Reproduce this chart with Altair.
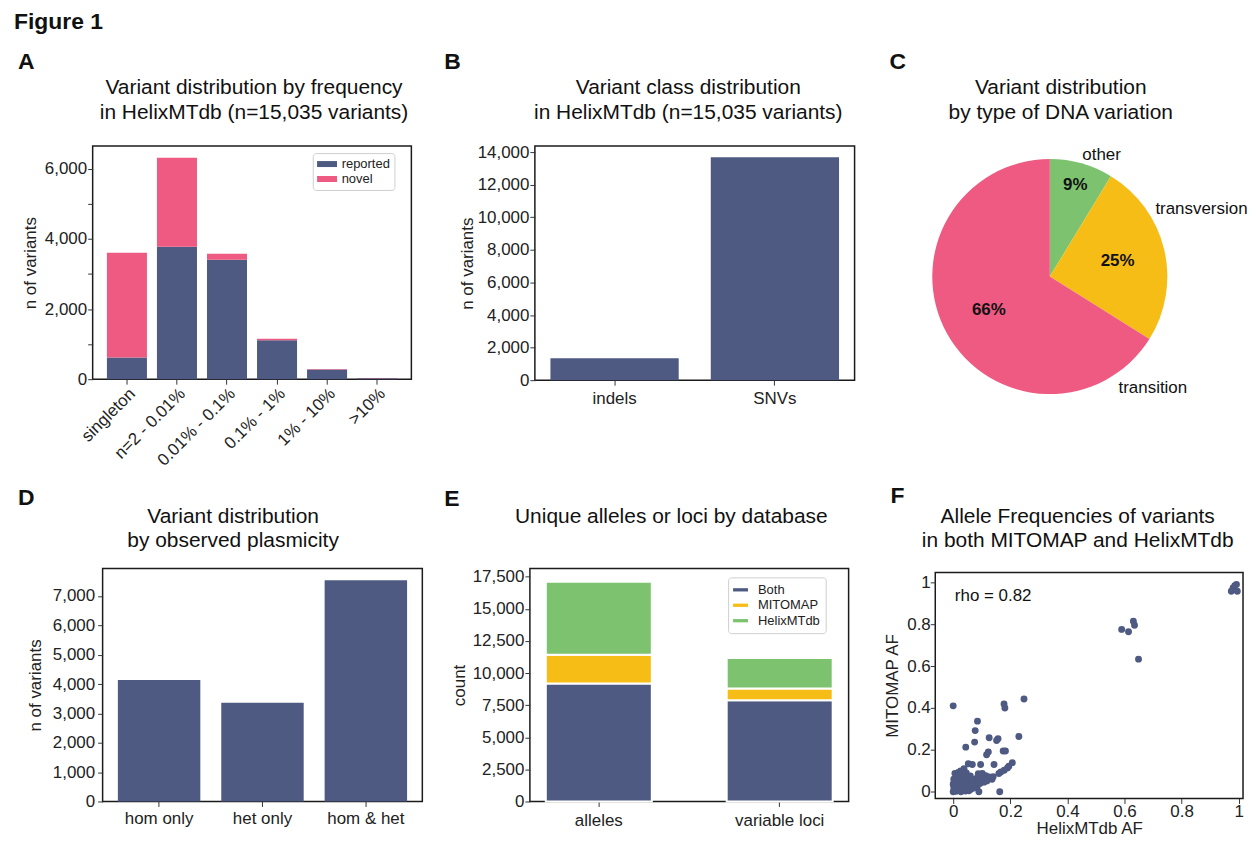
import altair as alt
import pandas as pd

FONT = "Liberation Sans"
INK = "#111111"
NAVY = "#4E5A82"
PINK = "#EE5A82"
YELLOW = "#F7BD17"
GREEN = "#7DC36F"

# ---------------- data ----------------
freq_bins = ["singleton", "n=2 - 0.01%", "0.01% - 0.1%", "0.1% - 1%", "1% - 10%", ">10%"]
reported = [620, 3780, 3410, 1110, 275, 25]
novel = [2990, 2540, 170, 40, 12, 6]

classes = ["indels", "SNVs"]
class_counts = [1345, 13690]

dna_types = ["other", "transversion", "transition"]
dna_share = [8.7, 25.2, 66.1]
dna_pct = ["9%", "25%", "66%"]

plasmicity = ["hom only", "het only", "hom & het"]
plasmicity_counts = [4140, 3360, 7535]

db_groups = ["alleles", "variable loci"]
both_db = [9180, 7880]
mitomap_only = [2250, 910]
helix_only = [5690, 2380]

helix_af = [0.974, 0.992, 0.980, 0.995, 0.986,
            0.590, 0.614, 0.631, 0.635, 0.649,
            0.000, 0.248, 0.178, 0.181, 0.085, 0.077, 0.044, 0.075, 0.126, 0.157,
            0.152, 0.230, 0.123, 0.117, 0.175, 0.183, 0.053, 0.067, 0.096, 0.143,
            0.207, 0.195, 0.190, 0.179, 0.167, 0.160, 0.126, 0.114, 0.102, 0.090,
            0.163, 0.038, 0.026,
            0.000, 0.004, 0.010, 0.002, 0.008, 0.015, 0.020, 0.003, 0.012, 0.020,
            0.026, 0.030, 0.018, 0.028, 0.035, 0.040, 0.040, 0.046, 0.050, 0.050,
            0.056, 0.060, 0.066, 0.070, 0.076, 0.082, 0.086, 0.090, 0.096, 0.100,
            0.106, 0.112, 0.120, 0.030, 0.022, 0.038, 0.060, 0.046, 0.015, 0.008,
            0.032, 0.068, 0.078, 0.088, 0.128, 0.000, 0.002, 0.027, 0.055, 0.062,
            0.043, 0.072, 0.012, 0.024, 0.036, 0.052, 0.064, 0.084, 0.094, 0.108,
            0.118, 0.136, 0.140, 0.006, 0.018]
mitomap_af = [0.957, 0.989, 0.973, 0.957, 0.984,
              0.775, 0.764, 0.814, 0.795, 0.633,
              0.410, 0.443, 0.419, 0.400, 0.337, 0.292, 0.213, 0.237, 0.258, 0.253,
              0.245, 0.264, 0.190, 0.177, 0.195, 0.195, 0.134, 0.130, 0.130, 0.130,
              0.139, 0.122, 0.114, 0.103, 0.095, 0.087, 0.071, 0.077, 0.087, 0.000,
              0.000, 0.110, 0.100,
              0.000, 0.012, 0.002, 0.022, 0.030, 0.016, 0.006, 0.045, 0.050, 0.036,
              0.022, 0.010, 0.060, 0.046, 0.030, 0.016, 0.052, 0.036, 0.020, 0.062,
              0.046, 0.030, 0.056, 0.040, 0.060, 0.050, 0.072, 0.046, 0.062, 0.076,
              0.066, 0.058, 0.070, 0.072, 0.080, 0.082, 0.076, 0.090, 0.040, 0.066,
              0.056, 0.026, 0.032, 0.086, 0.064, 0.036, 0.060, 0.000, 0.005, 0.012,
              0.004, 0.018, 0.074, 0.052, 0.042, 0.034, 0.044, 0.024, 0.040, 0.046,
              0.052, 0.060, 0.072, 0.088, 0.092]
rho_text = "rho = 0.82"

# ---------------- tables ----------------
dfA = pd.DataFrame(
    [{"bin": b, "status": "reported", "count": reported[i], "k": 0} for i, b in enumerate(freq_bins)]
    + [{"bin": b, "status": "novel", "count": novel[i], "k": 1} for i, b in enumerate(freq_bins)]
)
dfB = pd.DataFrame({"cls": classes, "n": class_counts})
dfC = pd.DataFrame({"kind": dna_types, "share": dna_share, "pct": dna_pct, "k": [0, 1, 2]})
dfD = pd.DataFrame({"pl": plasmicity, "n": plasmicity_counts})
dfE = pd.DataFrame(
    [{"grp": g, "db": "Both", "cnt": both_db[i], "k": 0} for i, g in enumerate(db_groups)]
    + [{"grp": g, "db": "MITOMAP", "cnt": mitomap_only[i], "k": 1} for i, g in enumerate(db_groups)]
    + [{"grp": g, "db": "HelixMTdb", "cnt": helix_only[i], "k": 2} for i, g in enumerate(db_groups)]
)
dfF = pd.DataFrame({"helix": helix_af, "mitomap": mitomap_af})
ONE = pd.DataFrame({"k": [0]})


def txt(s, x, y, size=17, weight="normal", align="left", lh=25):
    return alt.Chart(ONE).mark_text(
        text=s, font=FONT, fontSize=size, fontWeight=weight, align=align,
        baseline="alphabetic", color=INK, lineBreak="\n", lineHeight=lh
    ).encode(x=alt.value(x), y=alt.value(y))


def letter(s, x, y):
    return txt(s, x, y, size=23, weight="bold")


def title(s, x, y):
    return txt(s, x, y, size=21, align="center", lh=25)


def yaxis(title_text, values, tp, lp=1, label_expr=None, fmt=",d"):
    kw = dict(title=title_text, values=values, titlePadding=tp, labelPadding=lp, format=fmt)
    if label_expr:
        kw["labelExpr"] = label_expr
    return alt.Axis(**kw)


def spacer(w, h):
    return alt.Chart(ONE).mark_point(opacity=0).encode(
        x=alt.value(0), y=alt.value(0)
    ).properties(width=w, height=h, view=alt.ViewBackground(stroke="transparent"))


RES = dict(color="independent", x="independent", y="independent", theta="independent")

# ---------------- panel A ----------------
barsA = alt.Chart(dfA).mark_bar().encode(
    x=alt.X("bin:N", sort=freq_bins,
            scale=alt.Scale(paddingInner=0.2, paddingOuter=0.285),
            axis=alt.Axis(title=None, labelAngle=315, labelAlign="right",
                          labelBaseline="top", labelPadding=1)),
    y=alt.Y("count:Q", stack="zero", scale=alt.Scale(domain=[0, 6650], nice=False),
            axis=yaxis("n of variants", list(range(0, 7000, 1000)), 5, 1,
                       "datum.value % 2000 == 0 ? format(datum.value, ',') : ''")),
    color=alt.Color("status:N",
                    scale=alt.Scale(domain=["reported", "novel"], range=[NAVY, PINK]),
                    legend=alt.Legend(title=None, orient="none", legendX=221, legendY=7,
                                      symbolType="M-1,-0.45H2V0.45H-1Z", symbolSize=178,
                                      symbolStrokeWidth=0, labelFontSize=13, labelOffset=11,
                                      padding=4, rowPadding=1, strokeColor="#cfcfcf",
                                      fillColor="white", cornerRadius=3)),
    order=alt.Order("k:Q"),
)
panelA = alt.layer(
    barsA,
    txt("Figure 1", -79, -118, size=23, weight="bold"),
    letter("A", -75, -77),
    title("Variant distribution by frequency\nin HelixMTdb (n=15,035 variants)", 162, -52),
).properties(width=320, height=234)

# ---------------- panel B ----------------
barsB = alt.Chart(dfB).mark_bar(color=NAVY).encode(
    x=alt.X("cls:N", sort=classes, scale=alt.Scale(paddingInner=0.2, paddingOuter=0.097),
            axis=alt.Axis(title=None, labelAngle=0, labelPadding=5)),
    y=alt.Y("n:Q", scale=alt.Scale(domain=[0, 14370], nice=False),
            axis=yaxis("n of variants", list(range(0, 16000, 2000)), 1)),
)
panelB = alt.layer(
    barsB,
    letter("B", -91, -77),
    title("Variant class distribution\nin HelixMTdb (n=15,035 variants)", 154, -52),
).properties(width=321, height=235)

# ---------------- panel C ----------------
baseC = alt.Chart(dfC).encode(
    theta=alt.Theta("share:Q", stack=True), order=alt.Order("k:Q")
)
arcs = baseC.mark_arc(radius=118).encode(
    color=alt.Color("kind:N", scale=alt.Scale(domain=dna_types, range=[GREEN, YELLOW, PINK]),
                    legend=None)
)
pct_out = baseC.transform_calculate(
    lab="datum.kind == 'other' ? datum.pct : ''"
).mark_text(radius=95, font=FONT, fontSize=17, fontWeight="bold", color=INK).encode(text="lab:N")
pct_in = baseC.transform_calculate(
    lab="datum.kind == 'other' ? '' : datum.pct"
).mark_text(radius=70, font=FONT, fontSize=17, fontWeight="bold", color=INK).encode(text="lab:N")
panelC = alt.layer(
    arcs, pct_out, pct_in,
    txt(dna_types[0], 124, 14, align="center"),
    txt(dna_types[1], 178, 68),
    txt(dna_types[2], 141, 248),
    letter("C", -89, -77),
    title("Variant distribution\nby type of DNA variation", 83, -52),
).properties(width=144, height=262, view=alt.ViewBackground(stroke="transparent"))

# ---------------- panel D ----------------
barsD = alt.Chart(dfD).mark_bar(color=NAVY).encode(
    x=alt.X("pl:N", sort=plasmicity, scale=alt.Scale(paddingInner=0.2025, paddingOuter=0.1475),
            axis=alt.Axis(title=None, labelAngle=0, labelPadding=4)),
    y=alt.Y("n:Q", scale=alt.Scale(domain=[0, 7940], nice=False),
            axis=yaxis("n of variants", list(range(0, 8000, 1000)), 8, 3)),
)
panelD = alt.layer(
    barsD,
    letter("D", -85, -64),
    title("Variant distribution\nby observed plasmicity", 131, -46),
).properties(width=321, height=234)

# ---------------- panel E ----------------
barsE = alt.Chart(dfE).mark_bar(stroke="white", strokeWidth=2).encode(
    x=alt.X("grp:N", sort=db_groups, scale=alt.Scale(paddingInner=0.414, paddingOuter=0.088),
            axis=alt.Axis(title=None, labelAngle=0, labelPadding=6)),
    y=alt.Y("cnt:Q", stack="zero", scale=alt.Scale(domain=[0, 18150], nice=False),
            axis=yaxis("count", list(range(0, 20000, 2500)), 4)),
    color=alt.Color("db:N",
                    scale=alt.Scale(domain=["Both", "MITOMAP", "HelixMTdb"],
                                    range=[NAVY, YELLOW, GREEN]),
                    legend=alt.Legend(title=None, orient="none", legendX=199, legendY=9,
                                      symbolType="M-1,-0.22H1V0.22H-1Z", symbolSize=225,
                                      symbolStrokeWidth=0, labelFontSize=13, labelOffset=10,
                                      padding=5, rowPadding=0.5, strokeColor="#cfcfcf",
                                      fillColor="white", cornerRadius=3)),
    order=alt.Order("k:Q"),
)
panelE = alt.layer(
    barsE,
    letter("E", -86, -63),
    title("Unique alleles or loci by database", 142, -46),
).properties(width=320, height=234)

# ---------------- panel F ----------------
pts = alt.Chart(dfF).mark_circle(size=48, opacity=1, color=NAVY).encode(
    x=alt.X("helix:Q", scale=alt.Scale(domain=[-0.0628, 1.015], nice=False, zero=False),
            axis=alt.Axis(title="HelixMTdb AF", values=[0, 0.2, 0.4, 0.6, 0.8, 1],
                          format="~g", labelPadding=0, titlePadding=1)),
    y=alt.Y("mitomap:Q", scale=alt.Scale(domain=[-0.032, 1.047], nice=False, zero=False),
            axis=alt.Axis(title="MITOMAP AF", values=[0, 0.2, 0.4, 0.6, 0.8, 1],
                          format="~g", labelPadding=0, titlePadding=5)),
)
rho = alt.Chart(ONE).mark_text(
    text=rho_text, font=FONT, fontSize=17, color=INK, align="center", baseline="alphabetic"
).encode(x=alt.datum(0.14), y=alt.datum(0.91))
panelF = alt.layer(
    pts, rho,
    letter("F", -45, -70),
    title("Allele Frequencies of variants\nin both MITOMAP and HelixMTdb", 143, -50),
).properties(width=309, height=227)

# ---------------- layout (flush bounds: plot areas placed by spacing) ----------------
row1 = alt.hconcat(panelA, panelB, panelC, spacing=124, bounds="flush").resolve_scale(**RES)
colF = alt.vconcat(spacer(1, 1), panelF, spacing=3, bounds="flush").resolve_scale(**RES)
ef = alt.hconcat(panelE, colF, spacing=87, bounds="flush").resolve_scale(**RES)
def_ = alt.hconcat(panelD, ef, spacing=108, bounds="flush").resolve_scale(**RES)
row2 = alt.hconcat(spacer(1, 1), def_, spacing=9, bounds="flush").resolve_scale(**RES)

# nested rows count as zero height under flush bounds, so the spacing is the row offset
chart = alt.vconcat(row1, row2, spacing=424, bounds="flush").resolve_scale(**RES).properties(
    padding={"left": 5, "top": 0, "right": 0, "bottom": 0}
).configure_view(
    stroke="#1b1b1b", strokeWidth=1.5
).configure_axis(
    labelFont=FONT, titleFont=FONT, labelFontSize=17, titleFontSize=17,
    labelColor="#222222", titleColor="#222222", titleFontWeight="normal",
    tickColor="#333333", tickSize=5, tickWidth=1, domain=False, grid=False,
    labelOverlap=False
).configure_legend(
    labelFont=FONT, labelColor="#222222"
)

chart.save("out.html", embed_options={"renderer": "svg", "actions": False})
